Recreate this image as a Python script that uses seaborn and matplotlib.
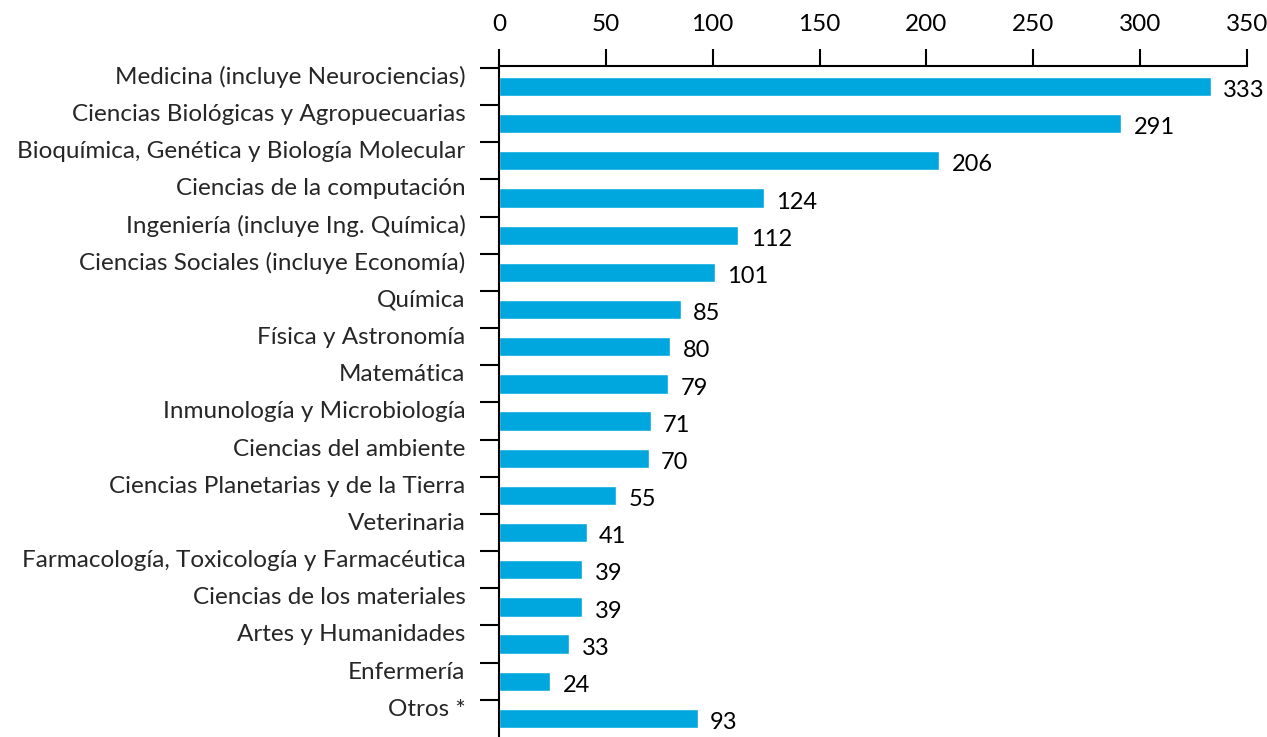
import numpy as np
import pandas as pd
import matplotlib
matplotlib.use("Agg")
import matplotlib.pyplot as plt
import seaborn as sns

categories = [
    "Medicina (incluye Neurociencias)",
    "Ciencias Biológicas y Agropuecuarias",
    "Bioquímica, Genética y Biología Molecular",
    "Ciencias de la computación",
    "Ingeniería (incluye Ing. Química)",
    "Ciencias Sociales (incluye Economía)",
    "Química",
    "Física y Astronomía",
    "Matemática",
    "Inmunología y Microbiología",
    "Ciencias del ambiente",
    "Ciencias Planetarias y de la Tierra",
    "Veterinaria",
    "Farmacología, Toxicología y Farmacéutica",
    "Ciencias de los materiales",
    "Artes y Humanidades",
    "Enfermería",
    "Otros *",
]
values = [333, 291, 206, 124, 112, 101, 85, 80, 79, 71, 70, 55, 41, 39, 39, 33, 24, 93]
x_ticks = [0, 50, 100, 150, 200, 250, 300, 350]

sns.set_style("white")
plt.rcParams['font.family'] = ['Lato', 'DejaVu Sans']

df = pd.DataFrame({"area": categories, "n": values})

fig = plt.figure(figsize=(12.67, 7.37), dpi=100)
ax = fig.add_axes([0.3938, 0.0, 0.5904, 0.9104])

sns.barplot(data=df, x="n", y="area", color="#00A7DE", width=0.52,
            saturation=1, ax=ax)

n = len(categories)
ax.set_xlim(0, 350)
ax.set_ylim(n - 0.5, -0.55)

# x axis on top
ax.xaxis.tick_top()
ax.set_xticks(x_ticks)
ax.tick_params(axis="x", which="major", top=True, bottom=False,
               direction="out", length=12, width=1.5, labelsize=17.5,
               pad=10, colors="black")

# y ticks: marks at slot tops, labels a bit below the marks
pos = np.arange(n)
ax.set_yticks(pos - 0.5, minor=True)
ax.set_yticks(pos - 0.3)
ax.set_yticklabels(categories)
ax.tick_params(axis="y", which="major", left=False, length=0, labelsize=17.5,
               pad=24)
ax.tick_params(axis="y", which="minor", left=True, direction="out",
               length=14, width=1.5, color="black")

for side in ["right", "bottom"]:
    ax.spines[side].set_visible(False)
for side in ["left", "top"]:
    ax.spines[side].set_visible(True)
    ax.spines[side].set_color("black")
    ax.spines[side].set_linewidth(1.5)

ax.set_xlabel("")
ax.set_ylabel("")

for i, v in enumerate(values):
    ax.annotate(str(v), xy=(v, i), xytext=(9, -3), textcoords="offset points",
                ha="left", va="center", fontsize=17, color="black")

fig.savefig("out.png", dpi=100)
